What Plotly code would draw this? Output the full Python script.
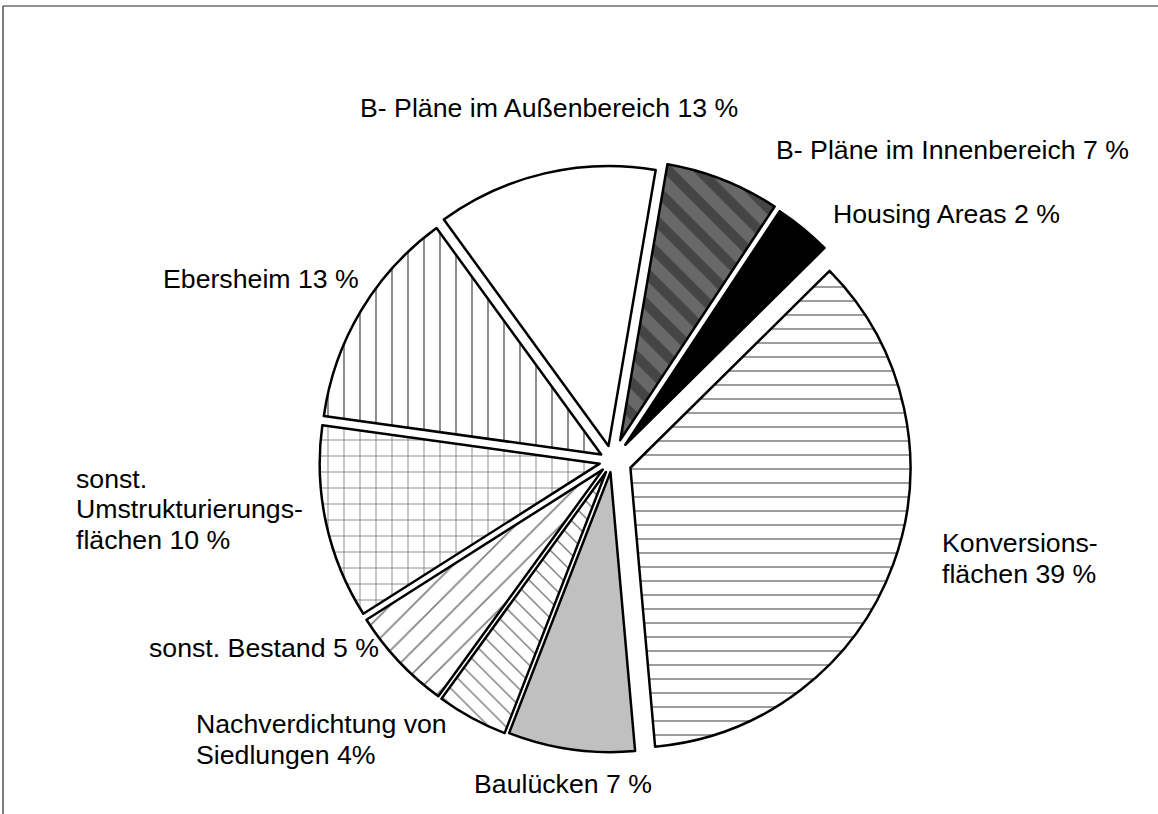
import plotly.graph_objects as go

W, H = 1158, 814

# slices in clockwise order, starting at the top
labels = [
    "B- Pläne im Innenbereich 7 %",
    "Housing Areas 2 %",
    "Konversions-\nflächen 39 %",
    "Baulücken 7 %",
    "Nachverdichtung von\nSiedlungen 4%",
    "sonst. Bestand 5 %",
    "sonst.\nUmstrukturierungs-\nflächen 10 %",
    "Ebersheim 13 %",
    "B- Pläne im Außenbereich 13 %",
]
# shares as drawn in the picture (the printed percentages are rounded)
values = [6.6, 3.3, 36.0, 7.3, 4.1, 6.0, 11.2, 12.8, 12.7]

fill_colors = ["#686868", "#000000", "#ffffff", "#c0c0c0", "#ffffff",
               "#ffffff", "#ffffff", "#ffffff", "#ffffff"]
pattern_shapes = ["\\", "", "-", "", "\\", "/", "+", "|", ""]
pattern_fg = ["#222222", "black", "black", "black", "black",
              "black", "black", "black", "black"]
pattern_size = [22, 10, 14, 10, 12, 16, 16, 16, 10]
pattern_solidity = [0.45, 0.1, 0.11, 0.1, 0.12, 0.1, 0.11, 0.11, 0.1]
pulls = [0.08, 0.075, 0.07, 0.04, 0.045, 0.045, 0.045, 0.045, 0.055]

# label placement in pixels (left edge, middle of first line)
label_pos = [(774, 150), (831, 214), (940, 543), (472, 784), (194, 724),
             (147, 648), (74, 479), (161, 279), (358, 108)]
line_step = 30.5

# pie box in pixels (radius 280 plus the largest pull)
cx, cy = 612, 461
half = 280 * (1 + max(pulls))

fig = go.Figure()
fig.add_trace(go.Pie(
    labels=labels,
    values=values,
    sort=False,
    direction="clockwise",
    rotation=9.7,
    pull=pulls,
    textinfo="none",
    hoverinfo="skip",
    marker=dict(
        colors=fill_colors,
        line=dict(color="black", width=2.5),
        pattern=dict(
            shape=pattern_shapes,
            fgcolor=pattern_fg,
            size=pattern_size,
            solidity=pattern_solidity,
            fillmode="overlay",
        ),
    ),
    domain=dict(
        x=[(cx - half) / W, (cx + half) / W],
        y=[1 - (cy + half) / H, 1 - (cy - half) / H],
    ),
))

for text, (lx, ly) in zip(labels, label_pos):
    for k, line in enumerate(text.split("\n")):
        fig.add_annotation(
            x=lx / W, y=1 - (ly + k * line_step) / H,
            xref="paper", yref="paper",
            text=line, showarrow=False,
            xanchor="left", yanchor="middle",
            font=dict(family="Liberation Sans, Arial, sans-serif", size=26.7, color="black"),
        )

# frame of the original figure (top and left edges visible)
fig.add_shape(type="line", xref="paper", yref="paper",
              x0=3 / W, x1=1, y0=1 - 6 / H, y1=1 - 6 / H,
              line=dict(color="#222222", width=1.2))
fig.add_shape(type="line", xref="paper", yref="paper",
              x0=3 / W, x1=3 / W, y0=0, y1=1 - 6 / H,
              line=dict(color="#222222", width=1.2))

fig.update_layout(
    width=W,
    height=H,
    margin=dict(l=0, r=0, t=0, b=0),
    paper_bgcolor="white",
    plot_bgcolor="white",
    showlegend=False,
    hovermode=False,
)

# drop the page's default body margin so the figure fills the window
fig.write_html(
    "out.html",
    config={"displayModeBar": False},
    post_script="document.body.style.margin='0';document.body.style.overflow='hidden';",
)
